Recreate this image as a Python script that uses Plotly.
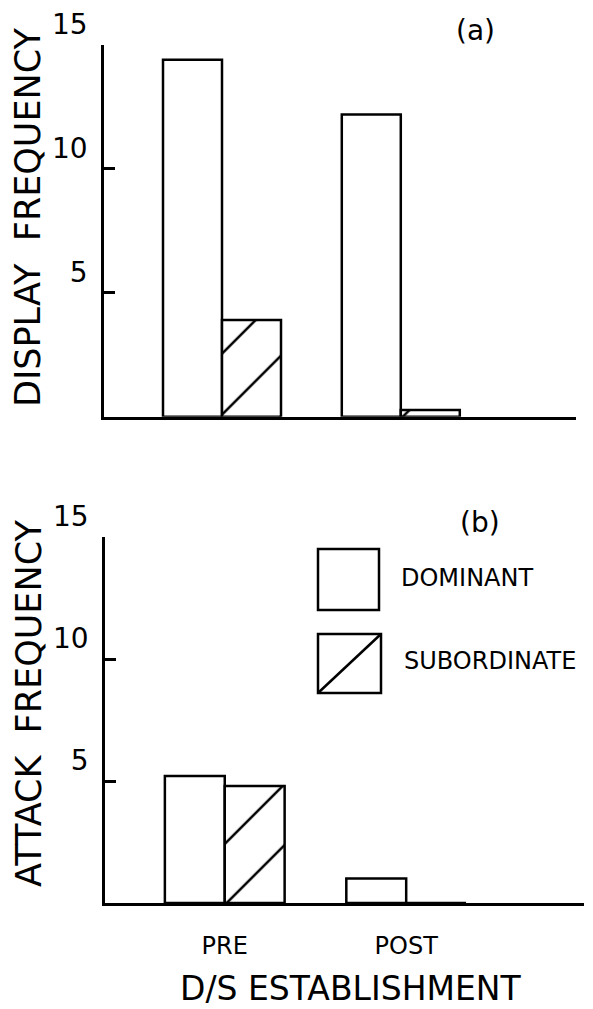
import plotly.graph_objects as go

# ---------------- data ----------------
categories = ["PRE", "POST"]
cat_pos = [1, 2]
display_dominant = [14.4, 12.2]
display_subordinate = [3.9, 0.27]
attack_dominant = [5.2, 1.0]
attack_subordinate = [4.8, 0.0]
y_tickvals = [5, 10, 15]
y_ticktext = ["5", "10", "15"]
series_names = ["DOMINANT", "SUBORDINATE"]

# ---------------- layout helpers ----------------
W, H = 593, 1009
FONT = "DejaVu Sans"
LW = 2.5


def fx(px):
    return px / W


def fy(py):
    return 1 - py / H


BAR_W = 0.33
HATCH = dict(shape="/", fgcolor="black", bgcolor="white", size=43.1, solidity=0.058,
             fillmode="replace", fgopacity=1)

fig = go.Figure()


def add_panel(dom_vals, sub_vals, xa, ya):
    fig.add_trace(go.Bar(
        x=cat_pos, y=dom_vals, name=series_names[0], width=BAR_W, offset=-BAR_W,
        marker=dict(color="white", line=dict(color="black", width=LW)),
        xaxis=xa, yaxis=ya, showlegend=False))
    fig.add_trace(go.Bar(
        x=cat_pos, y=sub_vals, name=series_names[1], width=BAR_W, offset=0,
        marker=dict(color="white", line=dict(color="black", width=LW), pattern=HATCH),
        xaxis=xa, yaxis=ya, showlegend=False))


add_panel(display_dominant, display_subordinate, "x", "y")
add_panel(attack_dominant, attack_subordinate, "x2", "y2")

x_range = [0.34, 2.98]
common_x = dict(range=x_range, showgrid=False, zeroline=False, showline=True,
                linecolor="black", linewidth=LW, ticks="", fixedrange=True,
                automargin=False)
common_y = dict(range=[0, 15], showgrid=False, zeroline=False, showline=True,
                linecolor="black", linewidth=LW, ticks="inside", ticklen=11,
                tickwidth=LW, tickcolor="black", tickvals=y_tickvals,
                ticktext=y_ticktext, ticklabelposition="outside top",
                ticklabelstandoff=8, automargin=False, fixedrange=True,
                tickfont=dict(family=FONT, size=28, color="black"))

fig.update_layout(
    template="none",
    width=W, height=H,
    margin=dict(l=0, r=0, t=0, b=0, pad=0, autoexpand=False),
    paper_bgcolor="white", plot_bgcolor="white",
    barmode="overlay",
    showlegend=False,
    font=dict(family=FONT, color="black"),
    xaxis=dict(domain=[fx(104), fx(576)], anchor="y", showticklabels=False, **common_x),
    yaxis=dict(domain=[fy(416.7), fy(45)], anchor="x", **common_y),
    xaxis2=dict(domain=[fx(105), fx(584)], anchor="y2", showticklabels=True,
                tickvals=cat_pos, ticktext=categories, ticklabelstandoff=19,
                tickfont=dict(family=FONT, size=24, color="black"), **common_x),
    yaxis2=dict(domain=[fy(903), fy(537)], anchor="x2", **common_y),
)

ann = [
    dict(text="(a)", x=fx(475), y=fy(31), size=28, angle=0, xanchor="center", yanchor="middle"),
    dict(text="(b)", x=fx(480), y=fy(522), size=28, angle=0, xanchor="center", yanchor="middle"),
    dict(text="DISPLAY  FREQUENCY", x=fx(28), y=fy(217), size=35, angle=-90, xanchor="center", yanchor="middle"),
    dict(text="ATTACK  FREQUENCY", x=fx(29), y=fy(704), size=35, angle=-90, xanchor="center", yanchor="middle"),
    dict(text="D/S ESTABLISHMENT", x=fx(350), y=fy(1009), size=33, angle=0, xanchor="center", yanchor="bottom"),
    dict(text=series_names[0], x=fx(400), y=fy(578), size=24, angle=0, xanchor="left", yanchor="middle"),
    dict(text=series_names[1], x=fx(403), y=fy(661), size=24, angle=0, xanchor="left", yanchor="middle"),
]
for a in ann:
    fig.add_annotation(text=a["text"], x=a["x"], y=a["y"], xref="paper", yref="paper",
                       showarrow=False, textangle=a["angle"], xanchor=a["xanchor"],
                       yanchor=a["yanchor"], borderpad=0,
                       font=dict(family=FONT, size=a["size"], color="black"))

# legend swatches
fig.add_shape(type="rect", xref="paper", yref="paper", x0=fx(318), x1=fx(379),
              y0=fy(610), y1=fy(549), line=dict(color="black", width=LW), fillcolor="white")
fig.add_shape(type="rect", xref="paper", yref="paper", x0=fx(318), x1=fx(381),
              y0=fy(693), y1=fy(634), line=dict(color="black", width=LW), fillcolor="white")
fig.add_shape(type="line", xref="paper", yref="paper", x0=fx(318), x1=fx(381),
              y0=fy(693), y1=fy(634), line=dict(color="black", width=LW))

fig.write_html("out.html")
